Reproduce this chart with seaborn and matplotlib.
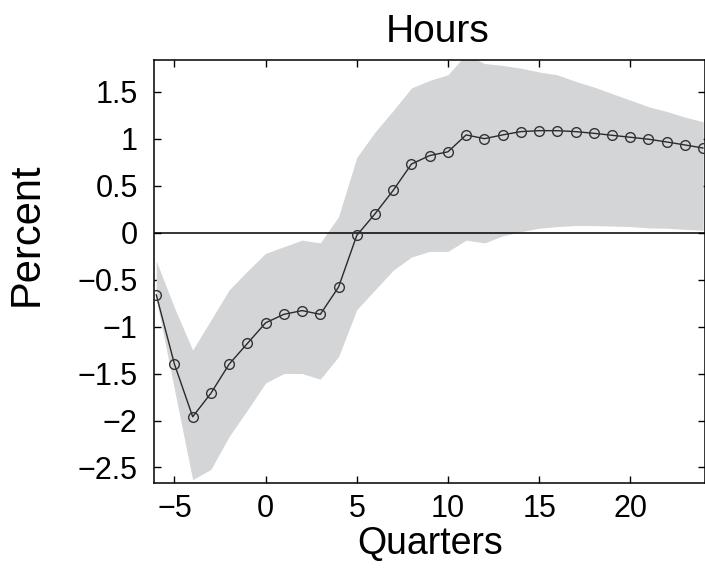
import numpy as np
import pandas as pd
import matplotlib
matplotlib.use("Agg")
import matplotlib.pyplot as plt
import seaborn as sns

quarters = list(range(-6, 25))
response = [-0.66, -1.40, -1.96, -1.71, -1.40, -1.18, -0.96, -0.87, -0.83, -0.87, -0.58,
            -0.03, 0.20, 0.45, 0.73, 0.82, 0.86, 1.04, 1.00, 1.04, 1.075, 1.085, 1.085,
            1.075, 1.057, 1.036, 1.015, 0.994, 0.965, 0.933, 0.90]
upper = [-0.30, -0.80, -1.25, -0.93, -0.61, -0.41, -0.22, -0.15, -0.08, -0.11, 0.17,
         0.80, 1.07, 1.30, 1.54, 1.62, 1.68, 1.90, 1.80, 1.78, 1.75, 1.71, 1.68,
         1.61, 1.55, 1.48, 1.41, 1.34, 1.29, 1.23, 1.18]
lower = [-0.70, -1.67, -2.63, -2.52, -2.17, -1.89, -1.60, -1.50, -1.50, -1.56, -1.32,
         -0.82, -0.61, -0.40, -0.26, -0.20, -0.20, -0.08, -0.11, -0.035, 0.01, 0.047, 0.064,
         0.075, 0.075, 0.07, 0.064, 0.05, 0.047, 0.035, 0.025]
xticks = [-5, 0, 5, 10, 15, 20]
yticks = [-2.5, -2, -1.5, -1, -0.5, 0, 0.5, 1, 1.5]

df = pd.DataFrame({"Quarters": quarters, "Percent": response})

sns.set_style("ticks")
plt.rcParams["font.family"] = ["Liberation Sans", "DejaVu Sans"]
plt.rcParams["text.color"] = "black"
plt.rcParams["axes.labelcolor"] = "black"

fig = plt.figure(figsize=(7.05, 5.69), dpi=100)
ax = fig.add_axes([0.219, 0.152, 0.781, 0.743])

ax.fill_between(quarters, lower, upper, color="#d4d5d7", linewidth=0, zorder=1)
ax.axhline(0, color="black", linewidth=1.1, zorder=2)
sns.lineplot(data=df, x="Quarters", y="Percent", ax=ax, color="#2a2a2a", linewidth=1.0,
             marker="o", markersize=7, markerfacecolor="none", markeredgecolor="#333333",
             markeredgewidth=1.0, zorder=3)

ax.set_xlim(-6.1, 24.1)
ax.set_ylim(-2.66, 1.84)
ax.set_xticks(xticks)
ax.set_yticks(yticks)
ax.set_yticklabels([("\u2212" if v < 0 else "") + (f"{abs(v):g}") for v in yticks])
ax.set_xticklabels([("\u2212" if v < 0 else "") + str(abs(v)) for v in xticks])
ax.tick_params(direction="in", length=5, width=1, top=True, right=True, labelsize=22,
               colors="black")
ax.tick_params(axis="x", pad=8)
ax.tick_params(axis="y", pad=12)
for s in ax.spines.values():
    s.set_visible(True)
    s.set_color("black")
    s.set_linewidth(1.1)
ax.set_title("Hours", fontsize=28, pad=13, x=0.515, color="black")
ax.set_xlabel("Quarters", fontsize=27, labelpad=2, color="black")
ax.set_ylabel("Percent", fontsize=30, labelpad=22, color="black")
ax.yaxis.label.set_y(0.588)

fig.savefig("out.png", dpi=100)
